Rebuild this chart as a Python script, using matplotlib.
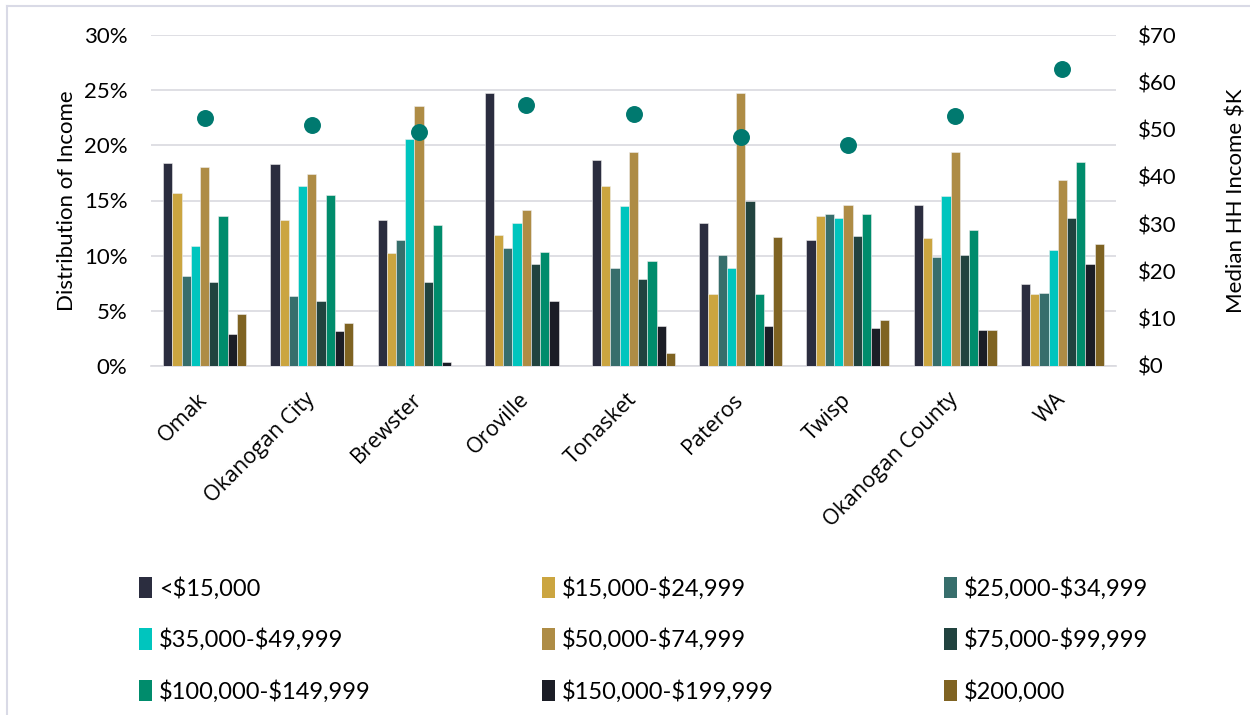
import matplotlib
matplotlib.use("Agg")
import matplotlib.pyplot as plt
import numpy as np
from matplotlib.ticker import FuncFormatter, MultipleLocator
from matplotlib.lines import Line2D
from matplotlib.patches import Patch

plt.rcParams['font.family'] = ['Lato', 'DejaVu Sans']

categories = ["Omak", "Okanogan City", "Brewster", "Oroville", "Tonasket",
              "Pateros", "Twisp", "Okanogan County", "WA"]
series_names = ["<$15,000", "$15,000-$24,999", "$25,000-$34,999",
                "$35,000-$49,999", "$50,000-$74,999", "$75,000-$99,999",
                "$100,000-$149,999", "$150,000-$199,999", "$200,000"]
lt15k = [18.4, 18.3, 13.2, 24.7, 18.7, 13.0, 11.4, 14.6, 7.4]
k15_25 = [15.7, 13.2, 10.2, 11.9, 16.3, 6.5, 13.6, 11.6, 6.5]
k25_35 = [8.2, 6.3, 11.4, 10.7, 8.9, 10.1, 13.8, 9.9, 6.6]
k35_50 = [10.9, 16.3, 20.6, 13.0, 14.5, 8.9, 13.4, 15.4, 10.5]
k50_75 = [18.0, 17.4, 23.6, 14.1, 19.4, 24.7, 14.6, 19.4, 16.9]
k75_100 = [7.6, 5.9, 7.6, 9.2, 7.9, 15.0, 11.8, 10.1, 13.4]
k100_150 = [13.6, 15.5, 12.8, 10.3, 9.5, 6.5, 13.8, 12.3, 18.5]
k150_200 = [2.9, 3.2, 0.4, 5.9, 3.6, 3.6, 3.4, 3.3, 9.2]
k200 = [4.7, 3.9, 0.0, 0.0, 1.2, 11.7, 4.2, 3.3, 11.1]
median_income = [52.5, 51.0, 49.4, 55.1, 53.2, 48.4, 46.7, 52.8, 62.8]

series = [lt15k, k15_25, k25_35, k35_50, k50_75, k75_100, k100_150, k150_200, k200]
colors = ["#2B2D3F", "#CBA540", "#376E6C", "#00C5BE", "#AE8C45",
          "#21433F", "#008C6C", "#1B1D26", "#7F6322"]
dot_color = "#00796F"
FS = 16

W, H = 1250, 715
fig = plt.figure(figsize=(W / 100, H / 100), dpi=100)
# chart frame (left and top edges visible)
border = "#D9DAE6"
fig.add_artist(Line2D([7 / W, 1.0], [1 - 6 / H, 1 - 6 / H], color=border, lw=1.5,
                      transform=fig.transFigure))
fig.add_artist(Line2D([7 / W, 7 / W], [0, 1 - 6 / H], color=border, lw=1.5,
                      transform=fig.transFigure))

ax = fig.add_axes([151 / W, 1 - 366 / H, 965 / W, 331 / H])

n = len(series)
x = np.arange(len(categories))
bw = 0.086
for i, (vals, c) in enumerate(zip(series, colors)):
    ax.bar(x + (i - (n - 1) / 2) * bw, vals, width=bw, color=c,
           edgecolor="#EEEEEE", linewidth=0.4, zorder=3)

ax.set_xlim(-0.5, len(categories) - 0.5)
ax.set_ylim(0, 30)
ax.yaxis.set_major_locator(MultipleLocator(5))
ax.yaxis.set_major_formatter(FuncFormatter(lambda v, p: f"{int(v)}%"))
ax.grid(axis="y", color="#D9D9DF", linewidth=1.2, zorder=0)
for s in ["top", "right", "left"]:
    ax.spines[s].set_visible(False)
ax.spines["bottom"].set_color("#D9D9DF")
ax.spines["bottom"].set_linewidth(1.2)
ax.tick_params(axis="both", length=0, labelsize=FS, colors="black")
ax.tick_params(axis="y", pad=17)
ax.tick_params(axis="x", pad=22)
ax.set_xticks(x)
ax.set_xticklabels(categories, rotation=45, ha="right", va="center",
                   rotation_mode="anchor", family=["Open Sans", "DejaVu Sans"],
                   fontsize=15.5)
ax.set_ylabel("Distribution of Income", fontsize=FS, labelpad=5)

ax2 = ax.twinx()
ax2.scatter(x, median_income, s=125, color=dot_color, zorder=5)
ax2.set_ylim(0, 70)
ax2.yaxis.set_major_locator(MultipleLocator(10))
ax2.yaxis.set_major_formatter(FuncFormatter(lambda v, p: f"\\${int(v)}"))
for s in ["top", "right", "left", "bottom"]:
    ax2.spines[s].set_visible(False)
ax2.tick_params(axis="y", length=0, labelsize=FS, pad=16)
ax2.set_ylabel("Median HH Income \\$K", fontsize=FS, labelpad=36)

# legend: 3 columns, filled row-wise
col_x = [139 / W, 542 / W, 944 / W]
for col in range(3):
    idx = [col, col + 3, col + 6]
    handles = [Patch(facecolor=colors[i], edgecolor="none") for i in idx]
    labels = [series_names[i].replace("$", "\\$") for i in idx]
    fig.legend(handles, labels, loc="upper left",
               bbox_to_anchor=(col_x[col], 1 - 577 / H),
               frameon=False, fontsize=17, handlelength=0.55, handleheight=1.0,
               handletextpad=0.3, labelspacing=1.22, borderaxespad=0,
               borderpad=0)

fig.savefig("out.png", dpi=100)
